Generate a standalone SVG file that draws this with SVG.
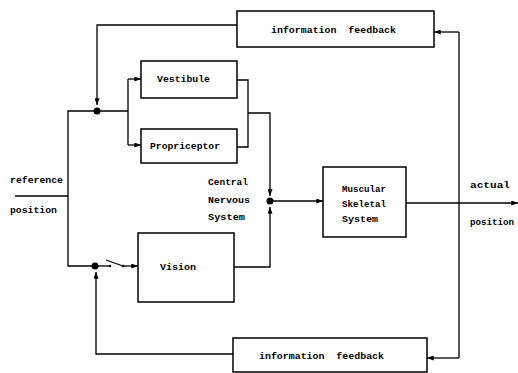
<svg xmlns="http://www.w3.org/2000/svg" width="518" height="373" viewBox="0 0 518 373">
<defs>
<marker id="arr" viewBox="0 0 8 6" refX="8" refY="3" markerWidth="7" markerHeight="5" markerUnits="userSpaceOnUse" orient="auto">
<path d="M0,0 L8,3 L0,6 Z" fill="#000"/>
</marker>
</defs>
<style>
.box{fill:#fff;stroke:#000;stroke-width:1.5}
.ln{fill:none;stroke:#000;stroke-width:1.3}
.t{font-family:"Liberation Mono","DejaVu Sans Mono",monospace;font-weight:bold;font-size:9.5px;fill:#000}
</style>
<rect width="518" height="373" fill="#fff"/>
<g id="connectors">
<polyline class="ln" points="237,25 97,25 97,105" marker-end="url(#arr)"/>
<line class="ln" x1="15" y1="196" x2="68" y2="196"/>
<polyline class="ln" points="128,111 68,111 68,266 95,266"/>
<line class="ln" x1="128" y1="79" x2="128" y2="145"/>
<line class="ln" x1="128" y1="79" x2="141" y2="79" marker-end="url(#arr)"/>
<line class="ln" x1="128" y1="145" x2="141" y2="145" marker-end="url(#arr)"/>
<polyline class="ln" points="237,80 248,80 248,147 237,147"/>
<polyline class="ln" points="248,113 270,113 270,196" marker-end="url(#arr)"/>
<line class="ln" x1="270" y1="201" x2="323" y2="201" marker-end="url(#arr)"/>
<polyline class="ln" points="234,267 270,267 270,207" marker-end="url(#arr)"/>
<line class="ln" x1="406" y1="203" x2="518" y2="203" marker-end="url(#arr)"/>
<line class="ln" x1="459" y1="32" x2="459" y2="358"/>
<line class="ln" x1="459" y1="32" x2="434" y2="32" marker-end="url(#arr)"/>
<line class="ln" x1="459" y1="358" x2="427" y2="358" marker-end="url(#arr)"/>
<polyline class="ln" points="233,354 96,354 96,272" marker-end="url(#arr)"/>
<line class="ln" x1="95" y1="266" x2="110" y2="266"/>
<line class="ln" x1="106" y1="260" x2="123" y2="266"/>
<line class="ln" x1="123" y1="266" x2="138" y2="266" marker-end="url(#arr)"/>
<circle cx="97" cy="111" r="3.5" fill="#000"/>
<circle cx="270" cy="201" r="3.5" fill="#000"/>
<circle cx="95" cy="266" r="3.5" fill="#000"/>
<circle cx="110" cy="266" r="1.3" fill="#000"/>
<circle cx="123" cy="266" r="1.3" fill="#000"/>
</g>
<g id="feedback-top">
<rect class="box" x="237" y="11" width="197" height="36"/>
<text class="t" x="271" y="33" textLength="125" lengthAdjust="spacingAndGlyphs" xml:space="preserve">information  feedback</text>
</g>
<g id="vestibule">
<rect class="box" x="141" y="61" width="96" height="37"/>
<text class="t" x="157" y="82" textLength="53" lengthAdjust="spacingAndGlyphs">Vestibule</text>
</g>
<g id="proprioceptor">
<rect class="box" x="141" y="129" width="96" height="34"/>
<text class="t" x="150" y="149" textLength="70" lengthAdjust="spacingAndGlyphs">Propriceptor</text>
</g>
<g id="vision">
<rect class="box" x="138" y="233" width="96" height="69"/>
<text class="t" x="160" y="270" textLength="36" lengthAdjust="spacingAndGlyphs">Vision</text>
</g>
<g id="cns">
<text class="t" x="208" y="185" textLength="40" lengthAdjust="spacingAndGlyphs">Central</text>
<text class="t" x="208" y="203" textLength="42" lengthAdjust="spacingAndGlyphs">Nervous</text>
<text class="t" x="208" y="220" textLength="37" lengthAdjust="spacingAndGlyphs">System</text>
</g>
<g id="musculoskeletal">
<rect class="box" x="323" y="167" width="83" height="70"/>
<text class="t" x="342" y="192" textLength="44" lengthAdjust="spacingAndGlyphs">Muscular</text>
<text class="t" x="342" y="207" textLength="44" lengthAdjust="spacingAndGlyphs">Skeletal</text>
<text class="t" x="342" y="222" textLength="36" lengthAdjust="spacingAndGlyphs">System</text>
</g>
<g id="feedback-bottom">
<rect class="box" x="233" y="338" width="194" height="34"/>
<text class="t" x="259" y="359" textLength="125" lengthAdjust="spacingAndGlyphs" xml:space="preserve">information  feedback</text>
</g>
<g id="labels">
<text class="t" x="10" y="183" textLength="53" lengthAdjust="spacingAndGlyphs">reference</text>
<text class="t" x="10" y="213" textLength="47" lengthAdjust="spacingAndGlyphs">position</text>
<text class="t" x="470" y="188" textLength="40" lengthAdjust="spacingAndGlyphs">actual</text>
<text class="t" x="470" y="225" textLength="44" lengthAdjust="spacingAndGlyphs">position</text>
</g>
</svg>
